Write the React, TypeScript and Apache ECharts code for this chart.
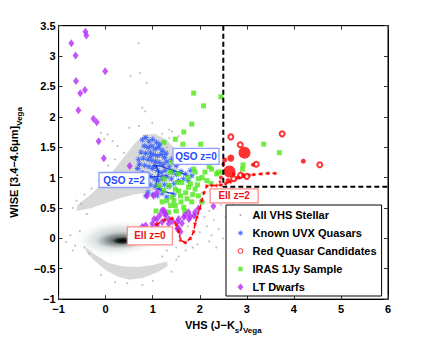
import React, { useEffect, useRef } from "react";
import * as echarts from "echarts";

const FONT = '"Liberation Sans", Arial, Helvetica, sans-serif';

// ---------- data (x = VHS J-Ks, y = WISE W1-W2) ----------
const stellarBandUpper: number[][] = [
  [-0.62, 0.45], [-0.3, 0.5], [0.0, 0.58], [0.3, 0.66], [0.6, 0.72], [0.85, 0.75], [1.1, 0.8],
  [1.4, 0.95], [1.55, 1.15], [1.5, 1.45], [1.3, 1.62], [1.05, 1.72], [0.8, 1.7], [0.6, 1.55],
  [0.4, 1.35], [0.15, 1.1], [-0.1, 0.88], [-0.35, 0.7], [-0.6, 0.55],
];
const stellarBandLower: number[][] = [
  [-0.42, -0.15], [-0.2, -0.28], [0.05, -0.4], [0.35, -0.46], [0.7, -0.47], [1.0, -0.44], [1.3, -0.38],
  [1.32, -0.45], [1.1, -0.56], [0.8, -0.65], [0.5, -0.68], [0.25, -0.63], [0.0, -0.52], [-0.25, -0.36],
  [-0.42, -0.22],
];
const stellarBands = [stellarBandUpper, stellarBandLower];

// stellar locus density core: [cx, cy, rx, ry]
const coreCx = [0.27, 0.33, 0.36];
const coreCy = [0.0, -0.03, -0.04];
const coreRx = [1.0, 0.55, 0.22];
const coreRy = [0.32, 0.14, 0.06];

const stellarPoints: number[][] = [
  [0.70, 3.21], [0.53, 2.67], [0.73, 2.72], [0.87, 2.56], [0.78, 2.15], [0.84, 2.09], [0.50, 1.82],
  [0.71, 1.85], [0.99, 1.90], [1.35, 1.79], [1.41, 1.76], [0.04, 1.71], [-0.10, 1.74], [-0.03, 1.63],
  [0.25, 1.52], [0.39, 1.41], [1.20, 1.72], [1.55, 1.68], [0.15, 1.60],
  [-0.52, 0.57], [-0.62, 0.62], [-0.45, 0.72], [-0.30, 0.82], [-0.15, 0.95], [0.05, 1.20], [0.20, 1.30],
  [-0.70, 0.50], [-0.40, 0.40],
  [-0.84, -0.06], [-0.75, 0.05], [-0.65, -0.12], [-0.55, 0.12], [-0.35, -0.25], [-0.45, -0.15], [-0.70, -0.20],
  [0.46, -0.74], [0.78, -0.77], [0.20, -0.72], [1.00, -0.70], [1.40, -0.55], [1.50, -0.35], [-0.10, -0.60],
  [1.06, -0.10], [1.15, 0.05], [1.25, 0.15], [1.35, -0.05], [1.40, 0.10], [1.30, -0.20], [1.50, -0.15],
  [1.20, -0.30], [1.45, 0.45], [1.60, 0.00], [1.75, 0.20], [1.70, -0.20], [1.85, -0.15], [1.55, -0.30],
  [2.05, 0.75], [2.10, 0.60], [2.20, 0.45], [2.30, 0.30], [2.40, 0.15], [2.15, 0.20], [2.45, 0.55],
  [2.35, 0.65], [2.55, 0.35], [2.60, 0.10], [2.25, 0.05], [2.10, 0.35], [2.50, 0.70], [2.70, 0.55],
  [2.80, 0.30], [2.00, 0.10], [1.95, -0.10], [2.20, -0.05], [2.65, 0.72], [2.90, 0.60], [2.35, -0.15],
  [2.50, 0.00], [1.30, 1.50], [1.45, 1.40], [1.60, 1.30], [1.70, 1.45], [1.35, 1.65],
];

const uvxQuasars: number[][] = [
  [0.78, 1.62], [0.85, 1.66], [0.92, 1.60], [1.00, 1.63], [1.08, 1.58], [0.82, 1.52], [0.90, 1.50],
  [0.98, 1.52], [1.05, 1.47], [1.12, 1.50], [1.20, 1.45], [0.75, 1.42], [0.85, 1.40], [0.95, 1.42],
  [1.02, 1.38], [1.10, 1.36], [1.18, 1.38], [1.25, 1.33], [0.80, 1.32], [0.90, 1.30], [0.98, 1.28],
  [1.06, 1.27], [1.14, 1.25], [1.22, 1.22], [1.30, 1.26], [0.72, 1.22], [0.83, 1.20], [0.92, 1.18],
  [1.00, 1.15], [1.10, 1.12], [1.18, 1.08], [1.26, 1.12], [1.35, 1.18], [1.42, 1.10], [0.78, 1.08],
  [0.88, 1.06], [0.96, 1.02], [1.04, 0.98], [1.12, 0.95], [1.20, 0.98], [1.30, 1.02], [1.40, 0.98],
  [1.50, 1.05], [1.60, 1.10], [1.70, 1.06], [1.80, 1.12], [0.85, 0.93], [0.95, 0.88], [1.05, 0.85],
  [1.15, 0.82], [1.25, 0.88], [1.35, 0.85], [1.45, 0.90], [1.55, 0.95], [0.90, 0.76], [1.00, 0.72],
  [1.10, 0.70], [1.20, 0.74], [1.30, 0.68], [1.45, 0.72], [1.65, 0.98], [1.75, 0.95], [1.28, 1.40],
  [1.15, 1.55], [0.70, 1.30], [0.68, 1.15], [1.40, 1.30], [1.50, 1.20], [0.95, 1.35], [1.05, 1.20],
  [0.77, 1.00], [0.70, 0.90], [0.85, 0.70], [1.83, 1.03],
];

const irasSample: number[][] = [
  [1.87, 2.39], [2.45, 2.33], [2.08, 2.18], [1.83, 1.88], [1.66, 1.75], [1.48, 1.63], [1.64, 1.55],
  [1.24, 1.58], [2.02, 1.55], [3.36, 1.55], [3.69, 1.41], [2.92, 1.21], [2.91, 1.14], [2.48, 1.09],
  [1.42, 1.25], [1.66, 1.25], [2.15, 1.30], [2.32, 1.28], [2.25, 1.14], [2.11, 1.09], [1.97, 0.98],
  [1.87, 1.14], [1.34, 0.87], [1.48, 0.81], [1.62, 0.92], [1.76, 0.84], [1.90, 0.81], [1.41, 0.68],
  [1.59, 0.70], [1.73, 0.65], [1.83, 0.60], [1.48, 0.54], [1.66, 0.51], [1.38, 0.54], [1.34, 0.43],
  [1.97, 0.70], [2.04, 0.60], [1.24, 0.79], [1.13, 0.87], [1.24, 0.98], [1.38, 1.09], [1.55, 1.06],
  [1.52, 0.92], [2.15, 0.95], [2.24, 0.90], [1.07, 0.45], [1.20, 0.60], [1.90, 1.09], [2.36, 1.06],
  [1.55, 0.78], [1.70, 0.75], [1.80, 0.90], [1.45, 0.62], [1.60, 0.60], [1.95, 0.88], [2.05, 1.00],
  [1.30, 0.62], [1.68, 0.45], [1.75, 1.00], [2.20, 1.18], [2.39, 1.09], [1.50, 0.45], [1.85, 0.72],
];

const ltDwarfs: number[][] = [
  [-0.73, 3.21], [-0.64, 3.01], [-0.43, 3.40], [-0.41, 3.34], [-0.63, 2.59], [-0.44, 2.44], [-0.54, 2.39],
  [-0.01, 2.75], [-0.58, 2.11], [-0.26, 1.97], [-0.19, 1.91], [-0.15, 1.60], [-0.04, 1.32], [0.51, 1.19],
  [0.88, 0.70], [1.02, 0.70], [1.09, 0.76], [0.85, 0.21], [0.78, 0.19], [0.99, 0.24], [1.03, 0.32],
  [1.09, 0.21], [0.99, 0.16], [1.09, 0.32], [1.20, 0.27], [1.20, 0.46], [1.27, 0.38], [1.27, 0.41],
  [1.34, 0.24], [1.34, 0.32], [1.52, 0.27], [1.55, 0.32], [1.55, 0.16], [1.52, 0.16], [1.59, 0.11],
  [1.66, 0.35], [1.69, 0.38], [1.76, 0.43], [1.77, 0.32], [1.88, 0.37], [1.90, 0.43], [1.97, 0.49],
  [2.29, 0.53], [1.24, 0.46], [1.15, 0.38], [1.42, 0.28], [1.62, 0.25], [1.80, 0.36],
];

const redCandidates: number[][] = [
  [2.66, 1.67], [2.86, 1.54], [3.75, 1.72], [4.55, 1.21], [3.20, 1.22], [2.87, 1.04], [2.72, 0.98], [3.00, 1.02],
];
// confirmed red quasars: [x, y, marker size]
const redConfirmed: number[][] = [
  [2.95, 1.41, 12], [2.63, 1.10, 12], [2.66, 1.32, 7], [2.53, 1.29, 5], [4.20, 1.27, 5], [3.13, 1.21, 4],
  [2.60, 0.95, 5], [2.81, 1.00, 4], [2.92, 1.04, 4], [2.45, 1.00, 4], [2.72, 1.06, 4], [2.43, 0.93, 3],
  [2.50, 1.22, 4],
];

const qsoTrack: number[][] = [
  [1.76, 1.03], [1.55, 1.09], [1.34, 1.14], [1.17, 1.19], [1.00, 1.20], [1.08, 1.17], [1.13, 1.10],
  [1.10, 1.00], [1.07, 0.90], [1.13, 0.81], [1.24, 0.77], [1.34, 0.75], [1.45, 0.74],
];
const qsoTrackHighZ: number[][] = [[0.88, 1.00], [1.10, 1.02], [1.31, 1.03]];

const ellTrack: number[][] = [
  [1.08, 0.23], [1.25, 0.30], [1.41, 0.33], [1.50, 0.22], [1.55, 0.11], [1.59, -0.03], [1.69, -0.07],
  [1.80, 0.00], [1.87, 0.11], [1.90, 0.24], [1.94, 0.35], [2.00, 0.49], [2.04, 0.62], [2.09, 0.75],
  [2.15, 0.86], [2.25, 0.87], [2.35, 0.87], [2.45, 0.88], [2.55, 0.90], [2.65, 0.93], [2.75, 0.97],
  [2.85, 1.00], [2.95, 1.02], [3.05, 1.04], [3.15, 1.05], [3.30, 1.06], [3.45, 1.07], [3.60, 1.07],
];

const selectionCut: number[][] = [[2.5, 3.5], [2.5, 0.85], [6, 0.85]];

const labelTexts = ["QSO z=0", "QSO z=2", "Ell z=0", "Ell z=2"];
const labelX = [1.92, 0.39, 0.94, 2.73];
const labelY = [1.35, 0.96, 0.04, 0.70];
const legendNames = ["All VHS Stellar", "Known UVX Quasars", "Red Quasar Candidates", "IRAS 1Jy Sample", "LT Dwarfs"];

// ---------- styles ----------
const labelBoxW = [46, 50, 45, 48];
const labelBoxH = [16, 15, 18, 14];
const labelIsQso = [true, true, false, false];
const BLUE = "#2452ff";
const GREEN = "#4fe619";
const PURPLE = "#b52cf5";
const RED = "#ff0000";
const ASTERISK =
  "path://M-5,-0.7L5,-0.7L5,0.7L-5,0.7Z M-0.7,-5L0.7,-5L0.7,5L-0.7,5Z M-3.04,-4.03L4.03,3.04L3.04,4.03L-4.03,-3.04Z M-4.03,3.04L3.04,-4.03L4.03,-3.04L-3.04,4.03Z";
// legend icons drawn inside an invisible 14x9 box (M points fix the box)
const ICON_BOX = "M0,0 M14,9 ";
const ICON_DOT = "path://" + ICON_BOX + "M6,4.5 A1,1 0 1,0 8,4.5 A1,1 0 1,0 6,4.5Z";
const ICON_STAR =
  "path://" + ICON_BOX +
  "M4.6,4.1L9.4,4.1L9.4,4.9L4.6,4.9Z M6.6,2.1L7.4,2.1L7.4,6.9L6.6,6.9Z M5.4,2.6L9.1,5.8L8.6,6.4L4.9,3.2Z M4.9,5.8L8.6,2.6L9.1,3.2L5.4,6.4Z";
const ICON_CIRCLE = "path://" + ICON_BOX + "M4.6,4.5 A2.4,2.4 0 1,0 9.4,4.5 A2.4,2.4 0 1,0 4.6,4.5Z";
const ICON_SQUARE = "path://" + ICON_BOX + "M4.8,2.3L9.2,2.3L9.2,6.7L4.8,6.7Z";
const ICON_DIAMOND = "path://" + ICON_BOX + "M7,1L10,4.5L7,8L4,4.5Z";
const coreStops = [
  [[0, "rgba(130,142,142,0.75)"], [0.55, "rgba(190,198,198,0.45)"], [1, "rgba(255,255,255,0)"]],
  [[0, "rgba(30,40,40,0.95)"], [0.6, "rgba(90,102,102,0.45)"], [1, "rgba(140,150,150,0)"]],
  [[0, "rgba(0,0,0,1)"], [0.6, "rgba(10,16,16,0.7)"], [1, "rgba(20,30,30,0)"]],
];

const fmt = (v: number) => (v < 0 ? "\u2212" + Math.abs(v) : String(v));

export default function App() {
  const ref = useRef<HTMLDivElement>(null);
  useEffect(() => {
    if (!ref.current) return;
    const chart = echarts.init(ref.current, undefined, { renderer: "svg" });
    const axisCommon = {
      type: "value" as const,
      axisLine: { show: true, onZero: false, lineStyle: { color: "#000", width: 1 } },
      axisTick: { show: true, inside: true, length: 4, lineStyle: { color: "#333" } },
      splitLine: { show: false },
    };
    const nameRich = {
      m: { fontSize: 11, fontWeight: "bold", color: "#000", fontFamily: FONT, lineHeight: 13, padding: [0, 0, 4, 0], verticalAlign: "bottom" },
      s: { fontSize: 8, fontWeight: "bold", color: "#000", fontFamily: FONT, lineHeight: 9, verticalAlign: "bottom" },
    };
    const option: any = {
      animation: false,
      backgroundColor: "#fff",
      textStyle: { fontFamily: FONT },
      grid: { left: 55.5, right: 41, top: 25.7, bottom: 38, show: true, borderColor: "#000", borderWidth: 1, backgroundColor: "transparent" },
      xAxis: [
        {
          ...axisCommon, min: -1, max: 6, interval: 1, position: "bottom",
          axisLabel: { color: "#000", fontWeight: "bold", fontSize: 11, margin: 4, formatter: fmt },
          name: "{m|VHS (J\u2212K}{s|s}{m|)}{s|Vega}", nameLocation: "middle", nameGap: 11,
          nameTextStyle: { rich: nameRich },
        },
        { ...axisCommon, min: -1, max: 6, interval: 1, position: "top", axisLabel: { show: false } },
      ],
      yAxis: [
        {
          ...axisCommon, min: -1, max: 3.5, interval: 0.5, position: "left",
          axisLabel: { color: "#000", fontWeight: "bold", fontSize: 11, margin: 3, formatter: fmt },
          name: "{m|WISE [3.4\u22124.6\u03bcm]}{s|Vega}", nameLocation: "middle", nameGap: 30,
          nameTextStyle: { rich: nameRich },
        },
        { ...axisCommon, min: -1, max: 3.5, interval: 0.5, position: "right", axisLabel: { show: false } },
      ],
      legend: {
        orient: "vertical", left: 226, top: 205,
        data: [
          { name: legendNames[0], icon: ICON_DOT, itemStyle: { color: "#9a9a9a", borderWidth: 0 } },
          { name: legendNames[1], icon: ICON_STAR, itemStyle: { color: BLUE, borderWidth: 0 } },
          { name: legendNames[2], icon: ICON_CIRCLE, itemStyle: { color: "#fff", borderColor: RED, borderWidth: 1 } },
          { name: legendNames[3], icon: ICON_SQUARE, itemStyle: { color: GREEN, borderWidth: 0 } },
          { name: legendNames[4], icon: ICON_DIAMOND, itemStyle: { color: PURPLE, borderWidth: 0 } },
        ],
        itemWidth: 14, itemHeight: 9, itemGap: 0,
        padding: [1, 5, 0, 7],
        backgroundColor: "#fff", borderColor: "#000", borderWidth: 1, borderRadius: 0,
        selectedMode: false,
        textStyle: { fontSize: 11, fontWeight: "bold", color: "#000", fontFamily: FONT, lineHeight: 18 },
      },
      series: [
        {
          type: "custom", name: "stellarBands", silent: true, z: 1,
          data: stellarBands.map((_, i) => [i]),
          renderItem: (params: any, api: any) => {
            const pts = stellarBands[params.dataIndex].map((p) => api.coord(p));
            return { type: "polygon", shape: { points: pts }, style: { fill: "#d8d8d8" } };
          },
        },
        {
          type: "custom", name: "stellarCore", silent: true, z: 2,
          data: coreCx.map((cx, i) => [cx, coreCy[i], coreRx[i], coreRy[i]]),
          renderItem: (params: any, api: any) => {
            const c = api.coord([api.value(0), api.value(1)]);
            const s = api.size([api.value(2), api.value(3)]);
            const stops = coreStops[params.dataIndex].map((st: any) => ({ offset: st[0], color: st[1] }));
            return {
              type: "ellipse", x: c[0], y: c[1], rotation: params.dataIndex === 0 ? 0.07 : 0.03,
              shape: { cx: 0, cy: 0, rx: s[0], ry: s[1] },
              style: { fill: new echarts.graphic.RadialGradient(0.5, 0.5, 0.5, stops) },
            };
          },
        },
        {
          type: "scatter", name: legendNames[0], data: stellarPoints, symbol: "circle", symbolSize: 2.2, z: 3,
          itemStyle: { color: "#b4b4b4" },
        },
        {
          type: "scatter", name: legendNames[1], data: uvxQuasars, symbol: ASTERISK, symbolSize: 6, z: 4,
          itemStyle: { color: BLUE },
        },
        {
          type: "line", name: "qsoTrack", data: qsoTrack, showSymbol: false, z: 5,
          lineStyle: { color: "#1f45e6", width: 1.5 }, silent: true,
        },
        {
          type: "line", name: "qsoTrackHighZ", data: qsoTrackHighZ, showSymbol: false, z: 5,
          lineStyle: { color: "#1f45e6", width: 1.5 }, silent: true,
        },
        {
          type: "scatter", name: legendNames[3], data: irasSample, symbol: "rect", symbolSize: 5, z: 6,
          itemStyle: { color: GREEN },
        },
        {
          type: "scatter", name: legendNames[4], data: ltDwarfs, symbol: "diamond", symbolSize: [6, 8], z: 7,
          itemStyle: { color: PURPLE },
        },
        {
          type: "line", name: "ellTrack", data: ellTrack, z: 8, symbol: ASTERISK, symbolSize: 4, showSymbol: true,
          itemStyle: { color: RED }, lineStyle: { color: RED, width: 1.5, type: [4, 3] }, silent: true,
        },
        {
          type: "scatter", name: legendNames[2], data: redCandidates, symbol: "emptyCircle", symbolSize: 5, z: 9,
          itemStyle: { color: RED, borderColor: RED, borderWidth: 0.8 },
        },
        {
          type: "scatter", name: "redConfirmed", data: redConfirmed, symbol: "circle", z: 9,
          symbolSize: (v: number[]) => v[2],
          itemStyle: { color: RED },
        },
        {
          type: "line", name: "selectionCut", data: selectionCut, showSymbol: false, z: 10, silent: true,
          lineStyle: { color: "#000", width: 2, type: [5, 3] },
        },
        {
          type: "custom", name: "trackLabels", z: 20, silent: true,
          data: labelX.map((x, i) => [x, labelY[i]]),
          renderItem: (params: any, api: any) => {
            const i = params.dataIndex;
            const c = api.coord([api.value(0), api.value(1)]);
            const w = labelBoxW[i], h = labelBoxH[i];
            const qso = labelIsQso[i];
            return {
              type: "group",
              children: [
                {
                  type: "rect", shape: { x: c[0] - w / 2, y: c[1] - h / 2, width: w, height: h },
                  style: { fill: "#fff", stroke: qso ? "#8d9dff" : "#ff8c8c", lineWidth: 1.3 },
                },
                {
                  type: "text",
                  style: {
                    text: labelTexts[i], x: c[0], y: c[1], align: "center", verticalAlign: "middle",
                    fill: qso ? "#2a4cff" : "#ee1111", font: `bold 10px ${FONT}`,
                  },
                },
              ],
            };
          },
        },
      ],
    };
    chart.setOption(option);
    return () => chart.dispose();
  }, []);
  return <div ref={ref} style={{ position: "fixed", left: 0, top: 0, width: 429, height: 339, background: "#fff" }} />;
}
